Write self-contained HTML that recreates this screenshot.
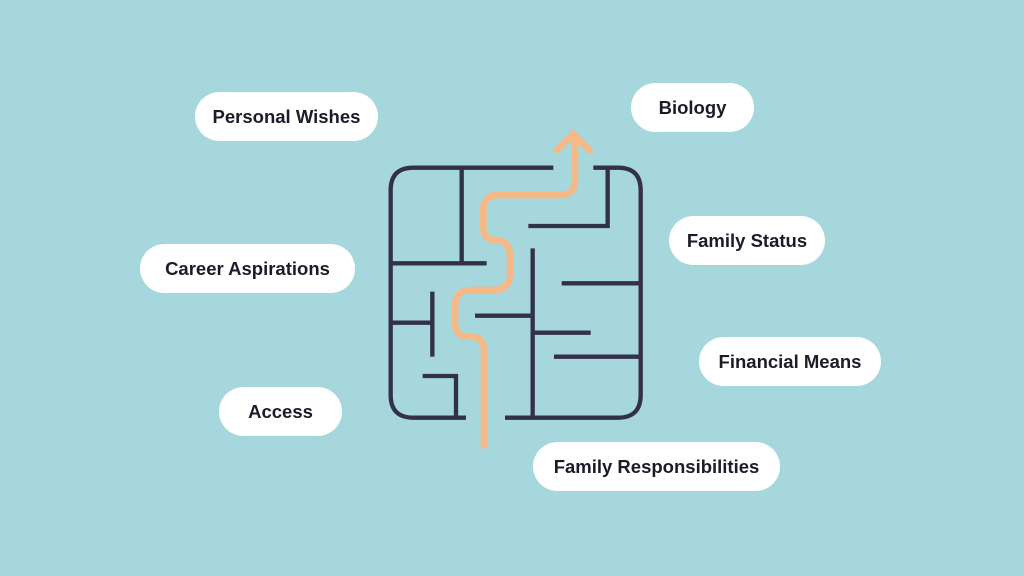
<!DOCTYPE html>
<html><head><style>
body{margin:0;width:1024px;height:576px;background:#a6d7dd;position:relative;overflow:hidden;font-family:"Liberation Sans",sans-serif}
.p{position:absolute;height:49px;background:#fff;border-radius:25px;display:flex;align-items:center;justify-content:center;font-weight:bold;font-size:18.5px;color:#1b1b2a}
svg{position:absolute;left:0;top:0}
</style></head><body>
<svg width="1024" height="576">
<g transform="translate(380,120) scale(0.33333)" fill="none" stroke-linecap="butt">
<g stroke="#33314a" stroke-width="13">
<path d="M520,143 L100,143 Q32,143 32,211 L32,825 Q32,893 100,893 L258,893"/>
<path d="M640,143 L714,143 Q782,143 782,211 L782,825 Q782,893 714,893 L375,893"/>
<path d="M245,143 L245,430 M32,430 L320,430"/>
<path d="M683,143 L683,318 L445,318"/>
<path d="M458,385 L458,893"/>
<path d="M545,490 L782,490 M285,587 L458,587 M458,638 L632,638 M522,710 L782,710"/>
<path d="M32,608 L157,608 M157,515 L157,710"/>
<path d="M128,768 L228,768 L228,893"/>
</g>
<g stroke="#f5b887" stroke-width="20">
<path d="M312,985 L312,690 Q312,650 270,650 L265,650 Q225,650 225,610 L225,560 Q225,510 275,510 L340,510 Q390,510 390,460 L390,410 Q390,360 345,360 Q310,360 310,320 L310,270 Q310,225 355,225 L540,225 Q585,225 585,180 L585,45"/>
<path d="M525,97 L580,42 L635,97"/>
</g>
</g>
</svg>
<div class="p" style="left:195px;top:92px;width:183px">Personal Wishes</div>
<div class="p" style="left:631px;top:83px;width:123px">Biology</div>
<div class="p" style="left:669px;top:216px;width:156px">Family Status</div>
<div class="p" style="left:140px;top:244px;width:215px">Career Aspirations</div>
<div class="p" style="left:699px;top:337px;width:182px">Financial Means</div>
<div class="p" style="left:219px;top:387px;width:123px">Access</div>
<div class="p" style="left:533px;top:442px;width:247px">Family Responsibilities</div>
</body></html>
